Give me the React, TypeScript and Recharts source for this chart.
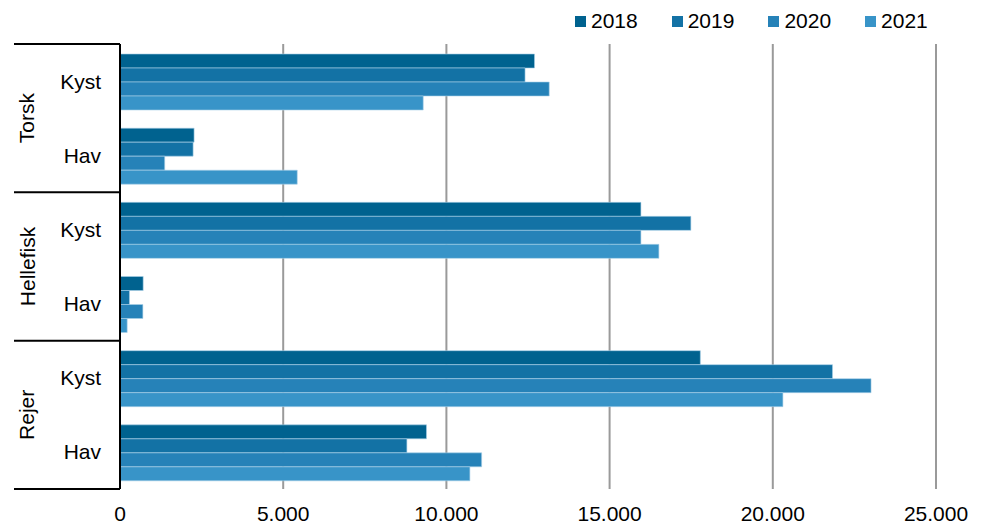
import React from "react";
import { BarChart, Bar, XAxis, YAxis, CartesianGrid } from "recharts";

document.body.style.margin = "0";

const groups = ["Torsk", "Hellefisk", "Rejer"];
const fleets = ["Kyst", "Hav"];
const years = ["2018", "2019", "2020", "2021"];
const colors = ["#00628F", "#1372A5", "#2682B8", "#3894C8"];

// values per row: Torsk Kyst, Torsk Hav, Hellefisk Kyst, Hellefisk Hav, Rejer Kyst, Rejer Hav
const v2018 = [12700, 2270, 15960, 710, 17780, 9390];
const v2019 = [12410, 2240, 17490, 290, 21830, 8790];
const v2020 = [13150, 1370, 15960, 700, 23010, 11080];
const v2021 = [9290, 5430, 16510, 220, 20310, 10720];
const xTicks = [0, 5000, 10000, 15000, 20000, 25000];

const series = [v2018, v2019, v2020, v2021];

const data = groups.flatMap((g, gi) =>
  fleets.map((f, fi) => {
    const i = gi * fleets.length + fi;
    const row: Record<string, string | number> = { key: `${g}-${f}`, group: g, fleet: f };
    years.forEach((y, yi) => {
      row[y] = series[yi][i];
    });
    return row;
  })
);

const W = 984;
const H = 525;
const M = { top: 44, right: 48, bottom: 0, left: 14 };
const X_AXIS_H = 36;
const Y_AXIS_W = 106;
const plotH = H - M.top - M.bottom - X_AXIS_H;
const band = plotH / data.length;
const FONT = "'Liberation Sans', Arial, sans-serif";
const FS = 21;

const fmt = (v: number) => v.toLocaleString("da-DK");

const CategoryTick = (props: any) => {
  const { y, index } = props;
  const row = data[index];
  if (!row) return null;
  const axisX = M.left + Y_AXIS_W;
  const first = index % fleets.length === 0;
  const last = index === data.length - 1;
  const groupMid = y - band / 2 + (band * fleets.length) / 2;
  return (
    <g>
      <text x={axisX - 19} y={y} textAnchor="end" dominantBaseline="central" fontSize={FS} fill="#000" fontFamily={FONT}>
        {row.fleet}
      </text>
      {first && (
        <>
          <line x1={M.left} x2={axisX} y1={y - band / 2} y2={y - band / 2} stroke="#000" strokeWidth={2} />
          <text
            x={27}
            y={groupMid}
            transform={`rotate(-90 27 ${groupMid})`}
            textAnchor="middle"
            dominantBaseline="central"
            fontSize={FS}
            fill="#000"
            fontFamily={FONT}
          >
            {row.group}
          </text>
        </>
      )}
      {last && <line x1={M.left} x2={axisX} y1={y + band / 2} y2={y + band / 2} stroke="#000" strokeWidth={2} />}
    </g>
  );
};

export default function App() {
  return (
    <div style={{ position: "relative", width: W, height: H, fontFamily: FONT }}>
      <div style={{ position: "absolute", top: 9, left: 575, display: "flex", alignItems: "center", fontSize: FS, color: "#000" }}>
        {years.map((y, i) => (
          <div key={y} style={{ display: "flex", alignItems: "center", width: 96.7 }}>
            <span style={{ width: 11, height: 11, background: colors[i], marginRight: 5, display: "inline-block" }} />
            <span>{y}</span>
          </div>
        ))}
      </div>
      <BarChart
        width={W}
        height={H}
        data={data}
        layout="vertical"
        margin={M}
        barCategoryGap="13.5%"
        barGap={0}
      >
        <CartesianGrid horizontal={false} vertical stroke="#9a9a9a" strokeWidth={2} />
        <XAxis
          type="number"
          domain={[0, 25000]}
          ticks={xTicks}
          tickFormatter={fmt}
          axisLine={false}
          tickLine={false}
          height={X_AXIS_H}
          tickMargin={11}
          tick={{ fontSize: FS, fill: "#000", fontFamily: FONT }}
          interval={0}
        />
        <YAxis
          type="category"
          dataKey="key"
          width={Y_AXIS_W}
          axisLine={{ stroke: "#000", strokeWidth: 2 }}
          tickLine={false}
          tick={<CategoryTick />}
          interval={0}
        />
        {years.map((y, i) => (
          <Bar key={y} dataKey={y} fill={colors[i]} stroke="#a9d0e8" strokeWidth={0.6} isAnimationActive={false} />
        ))}
      </BarChart>
    </div>
  );
}
